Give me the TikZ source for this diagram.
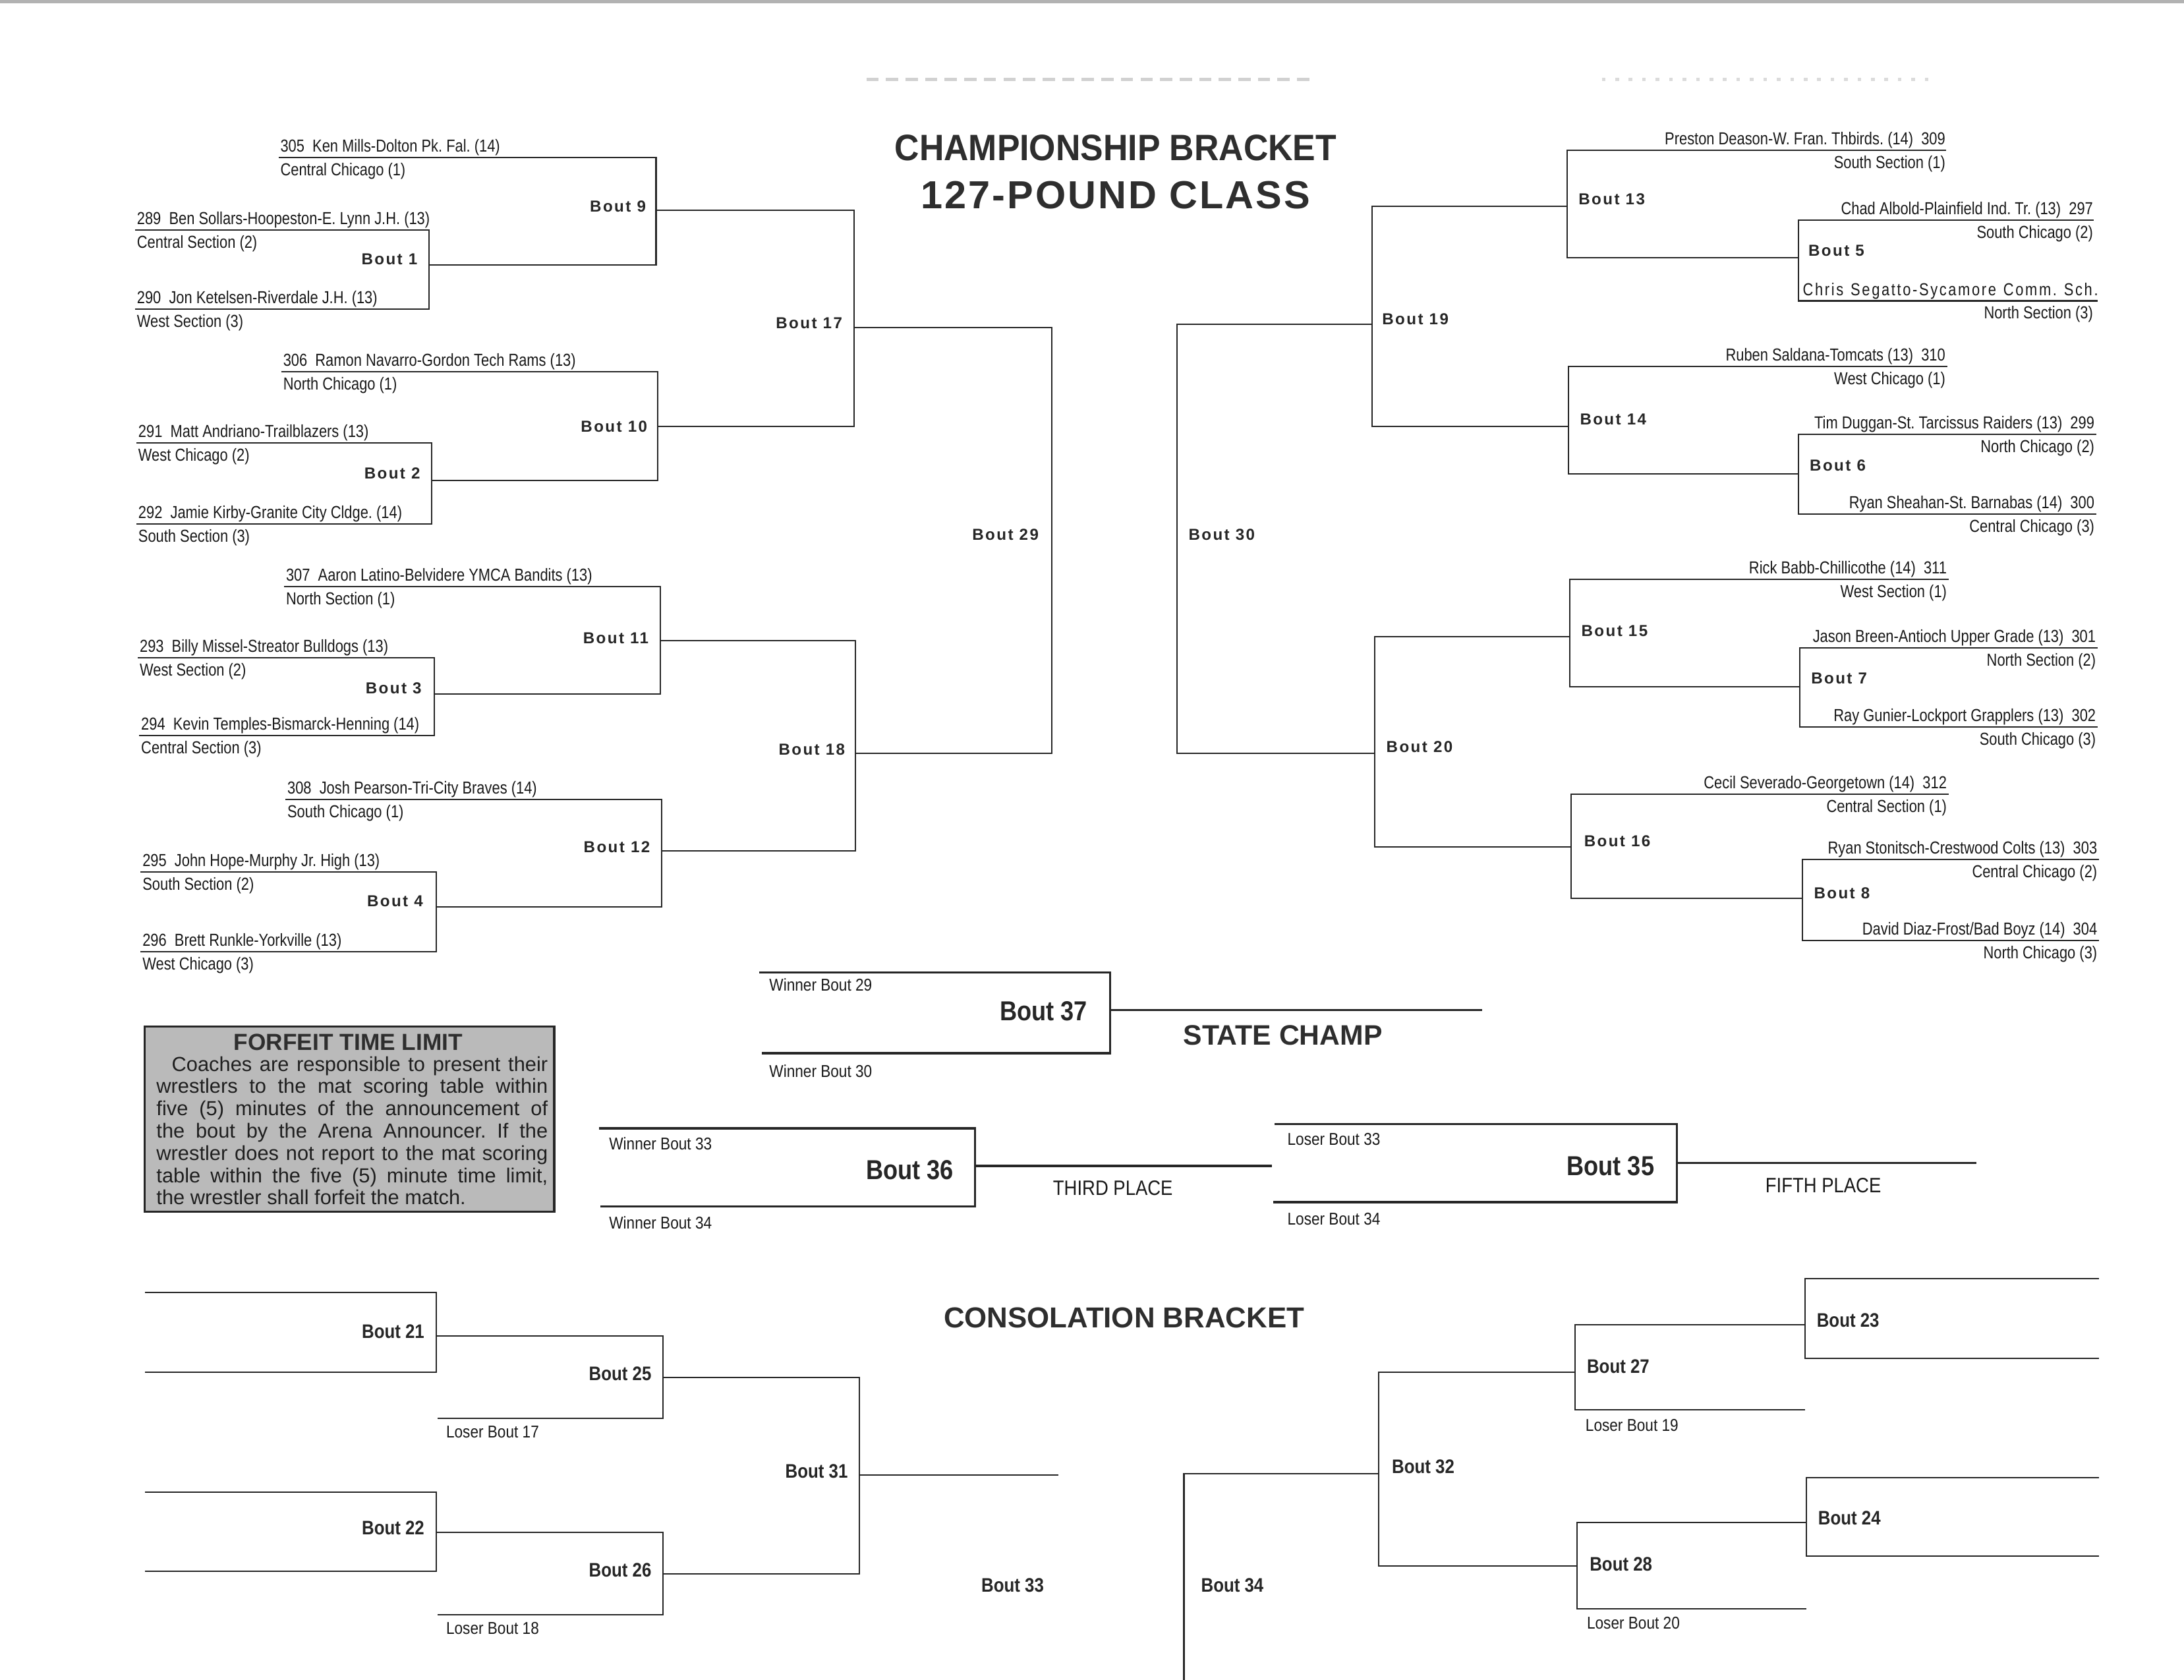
\documentclass[tikz,border=0pt]{standalone}
\usepackage{fontspec}
\setmainfont{Liberation Sans}
\newfontfamily\nmf[FakeStretch=0.83]{Liberation Sans}
\newfontfamily\spf[FakeStretch=0.83,LetterSpace=10]{Liberation Sans}
\newfontfamily\boutf[LetterSpace=10]{Liberation Sans}
\newfontfamily\cbf[FakeStretch=0.87]{Liberation Sans}
\newfontfamily\ttlf[FakeStretch=0.93]{Liberation Sans}
\newfontfamily\ttlsp[LetterSpace=5]{Liberation Sans}
\frenchspacing
\tikzset{
  ln/.style={line width=0.55pt, black!85},
  fl/.style={line width=0.9pt, black!85},
  nm/.style={font=\nmf\fontsize{7.1}{7.5}\selectfont, inner sep=0pt, text=black!90},
  lnm/.style={nm, anchor=base west},
  rnm/.style={nm, anchor=base east},
  bl/.style={font=\boutf\bfseries\fontsize{6.5}{7}\selectfont, inner sep=0pt, text=black!85},
  cb/.style={font=\cbf\bfseries\fontsize{8}{9}\selectfont, inner sep=0pt, text=black!85},
  fb/.style={font=\cbf\bfseries\fontsize{11.2}{12}\selectfont, inner sep=0pt, text=black!85},
  sm/.style={font=\cbf\fontsize{7}{8}\selectfont, inner sep=0pt, anchor=west, text=black!90},
  pl/.style={font=\cbf\fontsize{8.5}{9}\selectfont, inner sep=0pt, text=black!90},
  hd/.style={font=\bfseries, inner sep=0pt, text=black!82},
}
\newcommand\Lent[5]{\node[lnm] (#1) at (#2,#3-4) {#4}; \node[lnm] (#1s) at (#2,#3+13) {#5};}
\newcommand\Rent[5]{\node[rnm] (#1) at (#2,#3-4) {#4}; \node[rnm] (#1s) at (#2,#3+13) {#5};}
\begin{document}
\begin{tikzpicture}[x=0.02cm,y=-0.02cm]
\useasboundingbox (0,0) rectangle (1568,1206);
\fill[black!30] (0,0) rectangle (1568,2.5);
\draw[black!18, line width=1.2pt, dash pattern=on 5pt off 3pt] (622,57) -- (940,57);
\draw[black!14, line width=1.1pt, dash pattern=on 1.5pt off 4pt] (1150,57) -- (1385,57);

% ---------- titles
\node[hd, font=\ttlf\bfseries\fontsize{15}{16}\selectfont] (t1) at (801,106) {CHAMPIONSHIP BRACKET};
\node[hd, font=\ttlsp\bfseries\fontsize{16}{17}\selectfont] (t2) at (801,140) {127-POUND CLASS};

% ---------- left championship lines
\draw[ln] (200,113) -- (471,113) -- (471,190) -- (308,190);
\draw[ln] (97,165) -- (308,165) -- (308,222) -- (97,222);
\draw[ln] (202,267) -- (472,267) -- (472,345) -- (310,345);
\draw[ln] (98,318) -- (310,318) -- (310,376) -- (98,376);
\draw[ln] (471,151) -- (613,151) -- (613,306) -- (472,306);
\draw[ln] (204,421) -- (474,421) -- (474,498) -- (312,498);
\draw[ln] (99,472) -- (312,472) -- (312,528) -- (100,528);
\draw[ln] (205,574) -- (475,574) -- (475,651) -- (313,651);
\draw[ln] (101,626) -- (313,626) -- (313,683) -- (101,683);
\draw[ln] (474,460) -- (614,460) -- (614,611) -- (475,611);
\draw[ln] (613,235) -- (755,235) -- (755,541) -- (614,541);

% ---------- right championship lines
\draw[ln] (985,233) -- (845,233) -- (845,541) -- (987,541);
\draw[ln] (1125,148) -- (985,148) -- (985,306) -- (1126,306);
\draw[ln] (1397,108) -- (1125,108) -- (1125,185) -- (1291,185);
\draw[ln] (1503,158) -- (1291,158) -- (1291,216) -- (1506,216);
\draw[ln] (1398,263) -- (1126,263) -- (1126,340) -- (1291,340);
\draw[ln] (1505,312) -- (1291,312) -- (1291,369) -- (1505,369);
\draw[ln] (1127,457) -- (987,457) -- (987,608) -- (1128,608);
\draw[ln] (1399,416) -- (1127,416) -- (1127,493) -- (1292,493);
\draw[ln] (1506,465) -- (1292,465) -- (1292,522) -- (1506,522);
\draw[ln] (1399,570) -- (1128,570) -- (1128,645) -- (1294,645);
\draw[ln] (1507,617) -- (1294,617) -- (1294,675) -- (1507,675);

% ---------- finals lines
\draw[fl] (545,698) -- (797,698) -- (797,756) -- (547,756);
\draw[fl] (797,725) -- (1064,725);
\draw[fl] (430,810) -- (700,810) -- (700,866) -- (431,866);
\draw[fl] (700,837) -- (913,837);
\draw[fl] (915,807) -- (1204,807) -- (1204,863) -- (914,863);
\draw[fl] (1204,835) -- (1419,835);

% ---------- consolation lines
\draw[ln] (104,928) -- (313,928) -- (313,985) -- (104,985);
\draw[ln] (313,959) -- (476,959) -- (476,1018) -- (314,1018);
\draw[ln] (104,1071) -- (313,1071) -- (313,1128) -- (104,1128);
\draw[ln] (313,1100) -- (476,1100) -- (476,1159) -- (314,1159);
\draw[ln] (476,989) -- (617,989) -- (617,1130) -- (476,1130);
\draw[ln] (617,1059) -- (760,1059);
\draw[ln] (1507,918) -- (1296,918) -- (1296,975) -- (1507,975);
\draw[ln] (1296,951) -- (1131,951) -- (1131,1012) -- (1296,1012);
\draw[ln] (1507,1061) -- (1297,1061) -- (1297,1117) -- (1507,1117);
\draw[ln] (1297,1093) -- (1132,1093) -- (1132,1155) -- (1297,1155);
\draw[ln] (1131,985) -- (990,985) -- (990,1124) -- (1132,1124);
\draw[ln] (990,1058) -- (850,1058) -- (850,1212);

% ---------- left entries
\Lent{e305}{201}{113}{305\ \ Ken Mills-Dolton Pk. Fal. (14)}{Central Chicago (1)}
\Lent{e289}{98}{165}{289\ \ Ben Sollars-Hoopeston-E. Lynn J.H. (13)}{Central Section (2)}
\Lent{e290}{98}{222}{290\ \ Jon Ketelsen-Riverdale J.H. (13)}{West Section (3)}
\Lent{e306}{203}{267}{306\ \ Ramon Navarro-Gordon Tech Rams (13)}{North Chicago (1)}
\Lent{e291}{99}{318}{291\ \ Matt Andriano-Trailblazers (13)}{West Chicago (2)}
\Lent{e292}{99}{376}{292\ \ Jamie Kirby-Granite City Cldge. (14)}{South Section (3)}
\Lent{e307}{205}{421}{307\ \ Aaron Latino-Belvidere YMCA Bandits (13)}{North Section (1)}
\Lent{e293}{100}{472}{293\ \ Billy Missel-Streator Bulldogs (13)}{West Section (2)}
\Lent{e294}{101}{528}{294\ \ Kevin Temples-Bismarck-Henning (14)}{Central Section (3)}
\Lent{e308}{206}{574}{308\ \ Josh Pearson-Tri-City Braves (14)}{South Chicago (1)}
\Lent{e295}{102}{626}{295\ \ John Hope-Murphy Jr. High (13)}{South Section (2)}
\Lent{e296}{102}{683}{296\ \ Brett Runkle-Yorkville (13)}{West Chicago (3)}

% ---------- right entries
\Rent{e309}{1397}{108}{Preston Deason-W. Fran. Thbirds. (14)\ \ 309}{South Section (1)}
\Rent{e297}{1503}{158}{Chad Albold-Plainfield Ind. Tr. (13)\ \ 297}{South Chicago (2)}
\node[lnm] (e298) at (1294,212) {\makebox[4.24cm][s]{\spf Chris Segatto-Sycamore Comm. Sch.}};
\node[rnm] (e298s) at (1503,229) {North Section (3)};
\Rent{e310}{1397}{263}{Ruben Saldana-Tomcats (13)\ \ 310}{West Chicago (1)}
\Rent{e299}{1504}{312}{Tim Duggan-St. Tarcissus Raiders (13)\ \ 299}{North Chicago (2)}
\Rent{e300}{1504}{369}{Ryan Sheahan-St. Barnabas (14)\ \ 300}{Central Chicago (3)}
\Rent{e311}{1398}{416}{Rick Babb-Chillicothe (14)\ \ 311}{West Section (1)}
\Rent{e301}{1505}{465}{Jason Breen-Antioch Upper Grade (13)\ \ 301}{North Section (2)}
\Rent{e302}{1505}{522}{Ray Gunier-Lockport Grapplers (13)\ \ 302}{South Chicago (3)}
\Rent{e312}{1398}{570}{Cecil Severado-Georgetown (14)\ \ 312}{Central Section (1)}
\Rent{e303}{1506}{617}{Ryan Stonitsch-Crestwood Colts (13)\ \ 303}{Central Chicago (2)}
\Rent{e304}{1506}{675}{David Diaz-Frost/Bad Boyz (14)\ \ 304}{North Chicago (3)}

% ---------- championship bout labels
\node[bl, anchor=east] (b9) at (464,148) {Bout 9};
\node[bl, anchor=east] (b1) at (300,186) {Bout 1};
\node[bl, anchor=east] (b10) at (465,306) {Bout 10};
\node[bl, anchor=east] (b2) at (302,340) {Bout 2};
\node[bl, anchor=east] (b11) at (466,458) {Bout 11};
\node[bl, anchor=east] (b3) at (303,494) {Bout 3};
\node[bl, anchor=east] (b12) at (467,608) {Bout 12};
\node[bl, anchor=east] (b4) at (304,647) {Bout 4};
\node[bl, anchor=east] (b17) at (605,232) {Bout 17};
\node[bl, anchor=east] (b18) at (607,538) {Bout 18};
\node[bl, anchor=east] (b29) at (746,384) {Bout 29};
\node[bl, anchor=west] (b30) at (853,384) {Bout 30};
\node[bl, anchor=west] (b19) at (992,229) {Bout 19};
\node[bl, anchor=west] (b20) at (995,536) {Bout 20};
\node[bl, anchor=west] (b13) at (1133,143) {Bout 13};
\node[bl, anchor=west] (b14) at (1134,301) {Bout 14};
\node[bl, anchor=west] (b15) at (1135,453) {Bout 15};
\node[bl, anchor=west] (b16) at (1137,604) {Bout 16};
\node[bl, anchor=west] (b5) at (1298,180) {Bout 5};
\node[bl, anchor=west] (b6) at (1299,334) {Bout 6};
\node[bl, anchor=west] (b7) at (1300,487) {Bout 7};
\node[bl, anchor=west] (b8) at (1302,641) {Bout 8};

% ---------- finals labels
\node[sm] (w29) at (552,707) {Winner Bout 29};
\node[sm] (w30) at (552,769) {Winner Bout 30};
\node[fb, anchor=east] (b37) at (781,726) {Bout 37};
\node[hd, font=\bfseries\fontsize{11.5}{12}\selectfont] (sc) at (921,743) {STATE CHAMP};
\node[sm] (w33) at (437,821) {Winner Bout 33};
\node[sm] (w34) at (437,878) {Winner Bout 34};
\node[fb, anchor=east] (b36) at (685,840) {Bout 36};
\node[pl] (tp) at (799,853) {THIRD PLACE};
\node[sm] (l33) at (924,818) {Loser Bout 33};
\node[sm] (l34) at (924,875) {Loser Bout 34};
\node[fb, anchor=east] (b35) at (1188,837) {Bout 35};
\node[pl] (fp) at (1309,851) {FIFTH PLACE};

% ---------- forfeit box
\node[draw=black!85, line width=1pt, fill=black!27, inner sep=0pt, minimum width=5.88cm, minimum height=2.66cm, anchor=north west] (ftl) at (103,736) {};
\node[hd, font=\bfseries\fontsize{9.5}{10}\selectfont] (ftt) at (250,748) {FORFEIT TIME LIMIT};
\node[anchor=north west, inner sep=0pt, align=left, text=black!88, font=\fontsize{8.3}{9.1}\selectfont] (ftb) at (112,758) {\hbox to 5.62cm{\hspace*{0.22cm}Coaches are responsible to present their}\\
\hbox to 5.62cm{wrestlers to the mat scoring table within}\\
\hbox to 5.62cm{five (5) minutes of the announcement of}\\
\hbox to 5.62cm{the bout by the Arena Announcer. If the}\\
\hbox to 5.62cm{wrestler does not report to the mat scoring}\\
\hbox to 5.62cm{table within the five (5) minute time limit,}\\
the wrestler shall forfeit the match.};

% ---------- consolation labels
\node[hd, font=\bfseries\fontsize{11.8}{12}\selectfont] (cbt) at (807,946) {CONSOLATION BRACKET};
\node[cb, anchor=east] (b21) at (305,956) {Bout 21};
\node[cb, anchor=east] (b25) at (468,986) {Bout 25};
\node[cb, anchor=east] (b22) at (305,1097) {Bout 22};
\node[cb, anchor=east] (b26) at (468,1127) {Bout 26};
\node[cb, anchor=east] (b31) at (609,1056) {Bout 31};
\node[cb] (b33) at (727,1138) {Bout 33};
\node[sm] (l17) at (320,1028) {Loser Bout 17};
\node[sm] (l18) at (320,1169) {Loser Bout 18};
\node[cb, anchor=west] (b23) at (1304,948) {Bout 23};
\node[cb, anchor=west] (b27) at (1139,981) {Bout 27};
\node[cb, anchor=west] (b24) at (1305,1090) {Bout 24};
\node[cb, anchor=west] (b28) at (1141,1123) {Bout 28};
\node[cb, anchor=west] (b32) at (999,1053) {Bout 32};
\node[cb, anchor=west] (b34) at (862,1138) {Bout 34};
\node[sm] (l19) at (1138,1023) {Loser Bout 19};
\node[sm] (l20) at (1139,1165) {Loser Bout 20};
\end{tikzpicture}
\end{document}
